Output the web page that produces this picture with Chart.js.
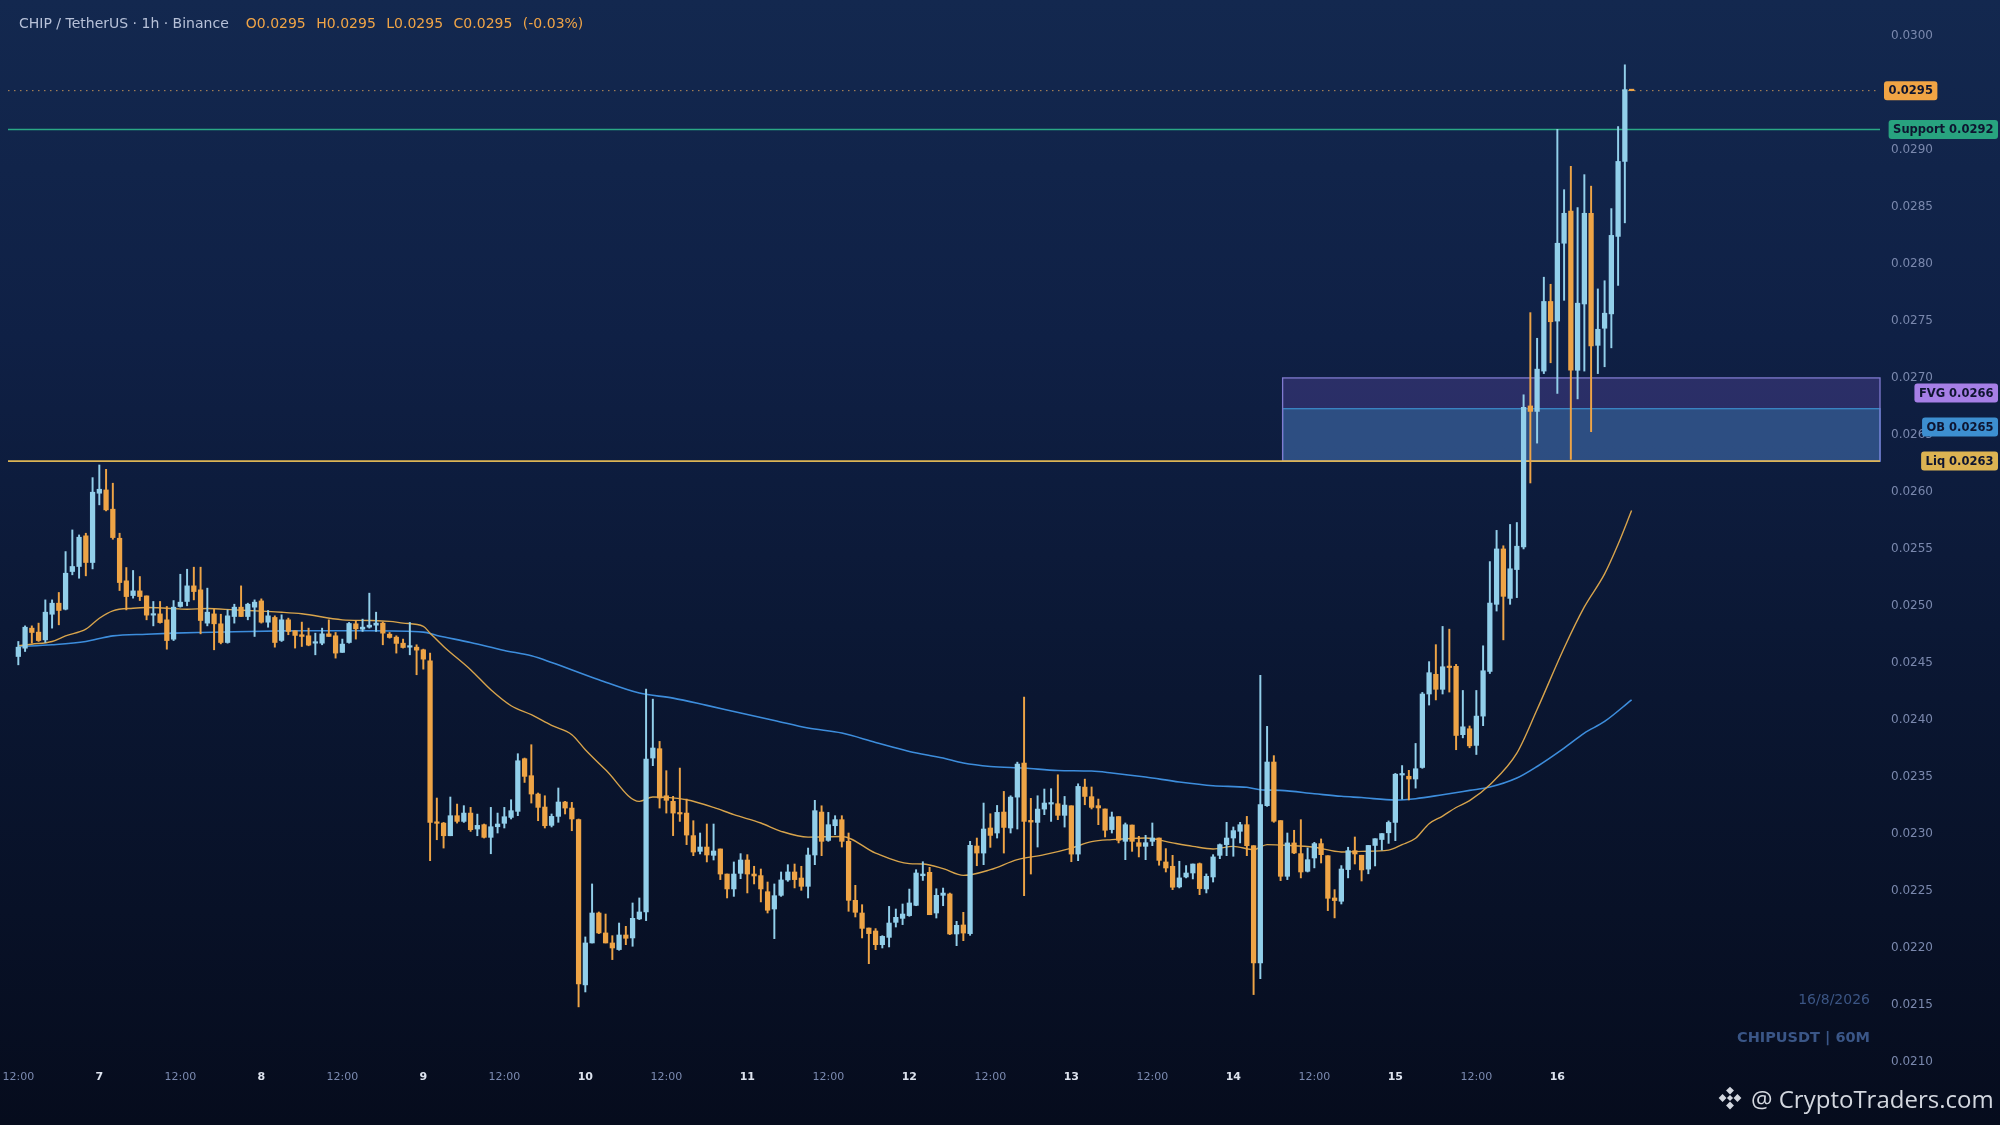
<!DOCTYPE html>
<html><head><meta charset="utf-8">
<script src="https://cdn.jsdelivr.net/npm/chart.js@4.4.1/dist/chart.umd.min.js"></script>
<style>
html,body{margin:0;padding:0;width:2000px;height:1125px;overflow:hidden;}
body{background:linear-gradient(180deg,#13284f 0%,#0f2045 30%,#0a1631 62%,#060c1d 100%);font-family:'DejaVu Sans',sans-serif;position:relative;}
#c{position:absolute;left:0;top:0;}
#hdr{position:absolute;left:19px;top:14px;font-size:14px;line-height:18px;color:#b7c1d8;white-space:pre;}
#hdr .v{color:#f0a446;margin-left:10.5px}
#hdr .v.first{margin-left:17px}
#date{position:absolute;right:130px;top:990px;font-size:14px;line-height:18px;color:#3b5584;}
#sym{position:absolute;right:130px;top:1028px;font-size:14.5px;line-height:18px;font-weight:bold;color:#3a5687;}
#wm{position:absolute;left:1716px;top:1082px;height:32px;display:flex;align-items:center;color:#d3d7df;font-family:'Open Sans',sans-serif;font-size:24px;}
#wm svg{margin-right:7px}
</style></head>
<body>
<canvas id="c" width="2000" height="1125"></canvas>
<div id="hdr"></div>
<div id="date">16/8/2026</div>
<div id="sym">CHIPUSDT | 60M</div>
<div id="wm"><svg width="28" height="28" viewBox="0 0 32 32"><g fill="#d3d7df"><path d="M16 3l4.5 4.5-4.5 4.5-4.5-4.5z"/><path d="M16 20l4.5 4.5-4.5 4.5-4.5-4.5z"/><path d="M3 16l4.5-4.5 4.5 4.5-4.5 4.5z"/><path d="M20 16l4.5-4.5 4.5 4.5-4.5 4.5z"/><path d="M16 12.5l3.5 3.5-3.5 3.5-3.5-3.5z"/></g></svg><span>@ CryptoTraders.com</span></div>
<script>
// ---------- DATA ----------
const symbolTitle = 'CHIP / TetherUS · 1h · Binance';
const firstDay = 6; // candle 0 = day 6, 12:00 (1h candles)
const opens = [
0.024555,0.024628,0.024804,0.024769,0.024701,0.024926,0.025023,0.024970,0.025301,0.025345,
0.025614,0.025380,0.025988,0.026017,0.025848,0.025593,0.025219,0.025090,0.025131,0.025087,
0.024918,0.024929,0.024877,0.024707,0.024994,0.025038,0.025175,0.025140,0.024848,0.024929,
0.024842,0.024678,0.024906,0.024988,0.024906,0.024988,0.025043,0.024856,0.024898,0.024696,
0.024877,0.024781,0.024746,0.024737,0.024672,0.024672,0.024754,0.024737,0.024591,0.024678,
0.024842,0.024795,0.024813,0.024830,0.024848,0.024751,0.024725,0.024672,0.024637,0.024637,
0.024614,0.024517,0.023102,0.023093,0.022982,0.023158,0.023108,0.023181,0.023041,0.023079,
0.022968,0.023061,0.023091,0.023143,0.023196,0.023658,0.023509,0.023348,0.023234,0.023073,
0.023152,0.023278,0.023225,0.023123,0.021673,0.022041,0.022304,0.022129,0.022041,0.021983,
0.022111,0.022085,0.022252,0.022313,0.023664,0.023746,0.023333,0.023284,0.023181,0.023181,
0.022983,0.022845,0.022883,0.022810,0.022866,0.022646,0.022515,0.022652,0.022769,0.022646,
0.022632,0.022491,0.022339,0.022459,0.022594,0.022664,0.022611,0.022538,0.022813,0.023190,
0.022941,0.023070,0.023123,0.022933,0.022415,0.022304,0.022172,0.022146,0.022026,0.022090,
0.022222,0.022257,0.022281,0.022371,0.022631,0.022661,0.022304,0.022459,0.022471,0.022120,
0.022199,0.022123,0.022892,0.022830,0.023050,0.023006,0.023190,0.023050,0.023321,0.023620,
0.023117,0.023099,0.023216,0.023260,0.023263,0.023161,0.023245,0.022821,0.023409,0.023325,
0.023246,0.023217,0.023036,0.023150,0.022933,0.023076,0.022921,0.022889,0.022933,0.022962,
0.022752,0.022714,0.022533,0.022620,0.022655,0.022737,0.022515,0.022620,0.022810,0.022904,
0.022962,0.023021,0.023079,0.022895,0.021866,0.023246,0.023629,0.023115,0.022626,0.022919,
0.022825,0.022670,0.022787,0.022913,0.022807,0.022436,0.022407,0.022685,0.022851,0.022811,
0.022689,0.022897,0.022949,0.023008,0.023099,0.023515,0.023504,0.023480,0.023581,0.024226,
0.024399,0.024267,0.024469,0.024469,0.023869,0.023921,0.023775,0.024032,0.024424,0.025013,
0.025499,0.025065,0.025318,0.025516,0.026754,0.026706,0.027060,0.027671,0.027499,0.028182,
0.028464,0.027067,0.027649,0.028445,0.027286,0.027436,0.027562,0.028242,0.028900,0.029524];
const highs = [
0.024687,0.024824,0.024824,0.024848,0.025052,0.025052,0.025117,0.025476,0.025666,0.025622,
0.025637,0.026125,0.026236,0.026198,0.026076,0.025637,0.025336,0.025310,0.025257,0.025087,
0.025038,0.025038,0.024994,0.025046,0.025277,0.025321,0.025339,0.025339,0.025155,0.024970,
0.024926,0.024964,0.025014,0.025175,0.025023,0.025052,0.025061,0.024959,0.024912,0.024921,
0.024892,0.024781,0.024857,0.024804,0.024760,0.024804,0.024877,0.024766,0.024708,0.024854,
0.024871,0.024883,0.025111,0.024944,0.024857,0.024766,0.024737,0.024708,0.024854,0.024658,
0.024620,0.024585,0.023313,0.023099,0.023322,0.023260,0.023246,0.023231,0.023172,0.023085,
0.023231,0.023181,0.023231,0.023298,0.023702,0.023664,0.023781,0.023357,0.023333,0.023173,
0.023401,0.023284,0.023275,0.023129,0.022094,0.022559,0.022313,0.022295,0.022105,0.022216,
0.022187,0.022392,0.022436,0.024269,0.024181,0.023810,0.023553,0.023328,0.023576,0.023304,
0.023114,0.023006,0.023085,0.023085,0.022866,0.022646,0.022752,0.022825,0.022816,0.022714,
0.022690,0.022576,0.022559,0.022664,0.022728,0.022734,0.022714,0.022874,0.023293,0.023245,
0.023187,0.023158,0.023158,0.023006,0.022547,0.022377,0.022172,0.022167,0.022105,0.022362,
0.022339,0.022383,0.022514,0.022684,0.022754,0.022705,0.022517,0.022523,0.022479,0.022231,
0.022310,0.022933,0.022962,0.023269,0.023175,0.023248,0.023371,0.023333,0.023628,0.024199,
0.023310,0.023333,0.023392,0.023395,0.023517,0.023327,0.023245,0.023438,0.023479,0.023410,
0.023304,0.023217,0.023190,0.023150,0.023094,0.023076,0.022977,0.022986,0.023094,0.022962,
0.022869,0.022810,0.022758,0.022720,0.022734,0.022743,0.022647,0.022816,0.022910,0.023100,
0.023059,0.023100,0.023152,0.022895,0.024389,0.023942,0.023685,0.023115,0.023006,0.023030,
0.023123,0.022875,0.022924,0.022954,0.022807,0.022509,0.022720,0.022881,0.022971,0.022811,
0.022897,0.022956,0.023001,0.023112,0.023529,0.023598,0.023556,0.023792,0.024240,0.024510,
0.024659,0.024819,0.024795,0.024486,0.024257,0.023945,0.024257,0.024649,0.025388,0.025662,
0.025527,0.025714,0.025731,0.026852,0.027573,0.027348,0.027884,0.027822,0.029181,0.028652,
0.028856,0.028495,0.028784,0.028683,0.027781,0.027853,0.028486,0.029206,0.029748,0.029528];
const lows = [
0.024482,0.024599,0.024672,0.024687,0.024678,0.024804,0.024833,0.024964,0.025272,0.025242,
0.025263,0.025324,0.025886,0.025833,0.025584,0.025134,0.024964,0.025067,0.025046,0.024877,
0.024824,0.024848,0.024619,0.024695,0.024988,0.025000,0.025052,0.024754,0.024824,0.024614,
0.024666,0.024672,0.024848,0.024906,0.024877,0.024731,0.024848,0.024812,0.024637,0.024687,
0.024746,0.024629,0.024643,0.024649,0.024570,0.024658,0.024731,0.024541,0.024591,0.024672,
0.024708,0.024775,0.024804,0.024775,0.024658,0.024716,0.024585,0.024629,0.024570,0.024395,
0.024444,0.022763,0.022947,0.022874,0.022982,0.023093,0.023099,0.023020,0.022982,0.022962,
0.022824,0.023006,0.023050,0.023129,0.023158,0.023450,0.023269,0.023114,0.023050,0.023059,
0.023100,0.023173,0.023026,0.021480,0.021611,0.022041,0.022123,0.022041,0.021895,0.021977,
0.022026,0.022012,0.022246,0.022237,0.023597,0.023225,0.023181,0.022983,0.023108,0.022904,
0.022807,0.022822,0.022752,0.022769,0.022597,0.022436,0.022450,0.022605,0.022480,0.022559,
0.022401,0.022304,0.022079,0.022450,0.022582,0.022524,0.022503,0.022436,0.022728,0.022807,
0.022933,0.022991,0.022883,0.022319,0.022269,0.022085,0.021859,0.021982,0.021997,0.022006,
0.022181,0.022202,0.022275,0.022368,0.022590,0.022289,0.022260,0.022368,0.022114,0.022017,
0.022061,0.022108,0.022719,0.022728,0.022880,0.022962,0.022830,0.023006,0.023041,0.022456,
0.022646,0.022883,0.023167,0.023108,0.023123,0.023058,0.022754,0.022763,0.023254,0.023217,
0.023079,0.022971,0.023006,0.022919,0.022772,0.022845,0.022796,0.022772,0.022895,0.022723,
0.022664,0.022509,0.022524,0.022612,0.022603,0.022465,0.022480,0.022576,0.022781,0.022807,
0.022802,0.022919,0.022807,0.021588,0.021728,0.023240,0.023100,0.022588,0.022597,0.022825,
0.022612,0.022664,0.022700,0.022743,0.022325,0.022261,0.022383,0.022612,0.022734,0.022585,
0.022648,0.022717,0.022856,0.022915,0.022939,0.023303,0.023296,0.023400,0.023574,0.024129,
0.024174,0.024226,0.024243,0.023737,0.023841,0.023754,0.023695,0.023948,0.024406,0.024954,
0.024701,0.025013,0.025072,0.025499,0.026078,0.026428,0.027038,0.027133,0.026863,0.027681,
0.026284,0.026816,0.027060,0.026528,0.027038,0.027098,0.027264,0.027812,0.028361,0.029520];
const closes = [
0.024637,0.024812,0.024766,0.024695,0.024944,0.025023,0.024959,0.025286,0.025345,0.025602,
0.025380,0.025997,0.026023,0.025842,0.025599,0.025204,0.025081,0.025131,0.025081,0.024918,
0.024929,0.024853,0.024695,0.024988,0.025032,0.025175,0.025125,0.024871,0.024944,0.024842,
0.024678,0.024912,0.024988,0.024906,0.025014,0.025032,0.024856,0.024912,0.024678,0.024877,
0.024775,0.024740,0.024731,0.024655,0.024684,0.024754,0.024731,0.024585,0.024664,0.024845,
0.024798,0.024813,0.024830,0.024848,0.024760,0.024722,0.024670,0.024634,0.024649,0.024611,
0.024532,0.023099,0.023091,0.022982,0.023158,0.023108,0.023181,0.023035,0.023073,0.022968,
0.023061,0.023085,0.023149,0.023202,0.023640,0.023503,0.023348,0.023231,0.023070,0.023152,
0.023278,0.023225,0.023129,0.021681,0.022041,0.022304,0.022129,0.022041,0.021997,0.022111,
0.022082,0.022257,0.022313,0.023655,0.023752,0.023313,0.023293,0.023181,0.023173,0.022988,
0.022839,0.022883,0.022813,0.022848,0.022646,0.022515,0.022646,0.022769,0.022646,0.022629,
0.022515,0.022328,0.022456,0.022594,0.022664,0.022597,0.022538,0.022813,0.023202,0.022933,
0.023079,0.023123,0.022933,0.022415,0.022310,0.022169,0.022123,0.022026,0.022099,0.022216,
0.022266,0.022295,0.022392,0.022655,0.022646,0.022289,0.022459,0.022479,0.022120,0.022196,
0.022128,0.022898,0.022830,0.023041,0.022985,0.023187,0.023055,0.023321,0.023611,0.023108,
0.023102,0.023216,0.023269,0.023269,0.023161,0.023251,0.022821,0.023415,0.023327,0.023231,
0.023226,0.023030,0.023147,0.022942,0.023079,0.022933,0.022889,0.022921,0.022962,0.022766,
0.022699,0.022530,0.022612,0.022655,0.022734,0.022518,0.022626,0.022796,0.022904,0.022962,
0.023027,0.023079,0.022895,0.021866,0.023255,0.023629,0.023109,0.022626,0.022919,0.022831,
0.022664,0.022772,0.022913,0.022816,0.022433,0.022413,0.022690,0.022851,0.022822,0.022682,
0.022897,0.022956,0.023001,0.023099,0.023522,0.023525,0.023480,0.023570,0.024226,0.024413,
0.024267,0.024465,0.024458,0.023862,0.023938,0.023771,0.024032,0.024430,0.025024,0.025499,
0.025083,0.025325,0.025523,0.026741,0.026706,0.027077,0.027671,0.027493,0.028182,0.028445,
0.027067,0.027656,0.028445,0.027280,0.027427,0.027568,0.028251,0.028900,0.029530,0.029521];

const emaFastIdx = [0,2,5,7,10,12,14,17,19,22,25,28,32,36,39,42,48,52,55,57,60,61,63,67,70,73,76,79,82,84,87,92,94,96,99,103,106,110,113,117,122,127,132,134,137,140,144,148,152,156,159,162,167,171,174,177,180,183,185,188,192,196,199,203,205,207,209,211,213,215,218,222,225,229,232,235,237,239];
const emaFastVals = [0.024649,0.024663,0.024687,0.024736,0.024795,0.024891,0.024956,0.024979,0.024985,0.024979,0.024970,0.024976,0.024964,0.024953,0.024944,0.024930,0.024877,0.024871,0.024863,0.024848,0.024819,0.024760,0.024643,0.024439,0.024263,0.024123,0.024044,0.023950,0.023869,0.023737,0.023561,0.023284,0.023322,0.023319,0.023298,0.023231,0.023167,0.023094,0.023021,0.022970,0.022976,0.022830,0.022737,0.022734,0.022693,0.022634,0.022684,0.022772,0.022816,0.022874,0.022930,0.022948,0.022962,0.022919,0.022889,0.022866,0.022889,0.022860,0.022904,0.022898,0.022881,0.022840,0.022845,0.022856,0.022904,0.022960,0.023088,0.023155,0.023230,0.023290,0.023430,0.023707,0.024090,0.024630,0.024990,0.025280,0.025540,0.025836];
const emaSlowIdx = [0,5,10,12,14,19,23,27,32,39,44,52,60,62,67,72,76,79,86,92,97,102,107,112,117,122,127,132,137,140,144,149,154,159,162,167,172,177,182,184,187,192,196,199,204,207,211,215,218,222,225,229,232,235,239];
const emaSlowVals = [0.024643,0.024658,0.024687,0.024713,0.024736,0.024751,0.024760,0.024766,0.024772,0.024780,0.024781,0.024781,0.024769,0.024740,0.024678,0.024608,0.024561,0.024503,0.024351,0.024234,0.024190,0.024126,0.024059,0.023994,0.023927,0.023883,0.023801,0.023722,0.023664,0.023620,0.023590,0.023576,0.023555,0.023550,0.023533,0.023497,0.023454,0.023421,0.023407,0.023386,0.023380,0.023351,0.023328,0.023317,0.023296,0.023307,0.023342,0.023380,0.023409,0.023488,0.023590,0.023751,0.023883,0.023985,0.024175];

const yTicks = [0.0210,0.0215,0.0220,0.0225,0.0230,0.0235,0.0240,0.0245,0.0250,0.0255,0.0260,0.0265,0.0270,0.0275,0.0280,0.0285,0.0290,0.0295,0.0300];
const xTickIdx = [0,12,24,36,48,60,72,84,96,108,120,132,144,156,168,180,192,204,216,228];

const supportLevel = 0.02918;
const liqLevel = 0.02627;
const fvgTop = 0.02700;
const obTop = 0.02673;
const zoneStartIdx = 187.3;

// ---------- HEADER ----------
const n = closes.length;
const lastClose = closes[n-1];
const chg = (closes[n-1] - closes[n-2]) / closes[n-2] * 100;
const hdr = document.getElementById('hdr');
hdr.textContent = symbolTitle;
[['O', opens[n-1]], ['H', highs[n-1]], ['L', lows[n-1]], ['C', closes[n-1]]].forEach(([k, v], j) => {
  const s = document.createElement('span'); s.className = j === 0 ? 'v first' : 'v'; s.textContent = k + v.toFixed(4); hdr.appendChild(s);
});
const sp = document.createElement('span'); sp.className = 'v'; sp.textContent = '(' + chg.toFixed(2) + '%)'; hdr.appendChild(sp);

// ---------- CHART ----------
Chart.defaults.font.family = "'DejaVu Sans', sans-serif";
const colUp = '#92cfea', colDn = '#eea446';
const candleIdx = opens.map((_, i) => i);
const candleColors = candleIdx.map(i => closes[i] >= opens[i] ? colUp : colDn);

function roundRect(ctx, x, y, w, h, r) {
  ctx.beginPath();
  ctx.moveTo(x + r, y); ctx.lineTo(x + w - r, y); ctx.quadraticCurveTo(x + w, y, x + w, y + r);
  ctx.lineTo(x + w, y + h - r); ctx.quadraticCurveTo(x + w, y + h, x + w - r, y + h);
  ctx.lineTo(x + r, y + h); ctx.quadraticCurveTo(x, y + h, x, y + h - r);
  ctx.lineTo(x, y + r); ctx.quadraticCurveTo(x, y, x + r, y); ctx.closePath();
}

const overlay = {
  id: 'overlay',
  beforeDatasetsDraw(chart) {
    const { ctx, chartArea: a, scales: { x, y } } = chart;
    ctx.save();
    const x0 = x.getPixelForValue(zoneStartIdx), x1 = a.right;
    const yF = y.getPixelForValue(fvgTop), yO = y.getPixelForValue(obTop), yL = y.getPixelForValue(liqLevel);
    ctx.fillStyle = 'rgba(110,85,190,0.30)'; ctx.fillRect(x0, yF, x1 - x0, yL - yF);
    ctx.fillStyle = 'rgba(50,110,160,0.50)'; ctx.fillRect(x0, yO, x1 - x0, yL - yO);
    ctx.lineWidth = 1.3;
    ctx.strokeStyle = '#3a88c6'; ctx.strokeRect(x0, yO, x1 - x0, yL - yO);
    ctx.strokeStyle = '#807ad0'; ctx.strokeRect(x0, yF, x1 - x0, yL - yF);
    const hline = (v, col, w, dash) => {
      const py = y.getPixelForValue(v);
      ctx.beginPath(); ctx.setLineDash(dash || []); ctx.strokeStyle = col; ctx.lineWidth = w;
      ctx.moveTo(a.left, py); ctx.lineTo(a.right, py); ctx.stroke();
    };
    hline(supportLevel, '#2aa885', 1.6);
    hline(liqLevel, '#dcb455', 1.6);
    hline(lastClose, 'rgba(215,160,90,0.85)', 1, [1.5, 4.5]);
    ctx.restore();
  },
  afterDraw(chart) {
    const { ctx, chartArea: a, scales: { y } } = chart;
    ctx.save();
    ctx.font = "bold 11.5px 'DejaVu Sans'";
    ctx.textBaseline = 'middle';
    const tag = (text, bg, cy, left, right) => {
      const w = ctx.measureText(text).width + 9, h = 19;
      const x = left !== undefined ? left : right - w;
      ctx.fillStyle = bg; roundRect(ctx, x, cy - h / 2, w, h, 3); ctx.fill();
      ctx.fillStyle = '#0e1530'; ctx.textAlign = 'left'; ctx.fillText(text, x + 4.5, cy + 0.5);
    };
    tag(lastClose.toFixed(4), '#f0a444', y.getPixelForValue(lastClose), a.right + 4);
    tag('Support ' + supportLevel.toFixed(4), '#28a37f', y.getPixelForValue(supportLevel), undefined, 1998);
    const yL = y.getPixelForValue(liqLevel);
    const yOB = Math.min(y.getPixelForValue((obTop + liqLevel) / 2), yL - 34);
    const yFVG = Math.min(y.getPixelForValue((fvgTop + liqLevel) / 2), yOB - 34);
    tag('FVG ' + ((fvgTop + liqLevel) / 2).toFixed(4), '#a67fe6', yFVG, undefined, 1998);
    tag('OB ' + ((obTop + liqLevel) / 2).toFixed(4), '#3d8fd0', yOB, undefined, 1998);
    tag('Liq ' + liqLevel.toFixed(4), '#dcb352', yL, undefined, 1998);
    ctx.restore();
  }
};

new Chart(document.getElementById('c'), {
  type: 'bar',
  data: {
    datasets: [
      { type: 'line', label: 'EMA slow', data: emaSlowIdx.map((v, k) => ({ x: v, y: emaSlowVals[k] })),
        borderColor: '#3d8ddc', borderWidth: 1.6, pointRadius: 0, cubicInterpolationMode: 'monotone', order: 4 },
      { type: 'line', label: 'EMA fast', data: emaFastIdx.map((v, k) => ({ x: v, y: emaFastVals[k] })),
        borderColor: '#d8a44c', borderWidth: 1.4, pointRadius: 0, cubicInterpolationMode: 'monotone', order: 3 },
      { type: 'bar', label: 'wicks', data: candleIdx.map(i => ({ x: i, y: [lows[i], highs[i]] })),
        backgroundColor: candleColors, barThickness: 1.3, grouped: false, borderWidth: 0, order: 2 },
      { type: 'bar', label: 'bodies', data: candleIdx.map(i => ({ x: i, y: [opens[i], closes[i]] })),
        backgroundColor: candleColors, barThickness: 4.6, minBarLength: 1.5, grouped: false, borderWidth: 0, order: 1 }
    ]
  },
  options: {
    responsive: false, animation: false, devicePixelRatio: 1,
    layout: { padding: { top: 19, left: 8, right: 0, bottom: 0 } },
    plugins: { legend: { display: false }, tooltip: { enabled: false } },
    scales: {
      x: {
        type: 'linear', min: -1.53, max: 275.8, offset: false,
        grid: { display: false, drawTicks: false }, border: { display: false },
        afterBuildTicks: s => { s.ticks = xTickIdx.map(v => ({ value: v })); },
        afterFit: s => { s.height = 60; s.paddingLeft = 0; s.paddingRight = 0; },
        ticks: {
          autoSkip: false, maxRotation: 0, padding: 6,
          callback: v => (v % 24 === 0) ? '12:00' : String(firstDay + 1 + (v - 12) / 24),
          color: c => (c.tick && c.tick.value % 24 === 12) ? '#dde3ee' : '#7b8ab0',
          font: c => (c.tick && c.tick.value % 24 === 12) ? { size: 11, weight: 'bold' } : { size: 11 }
        }
      },
      y: {
        type: 'linear', position: 'right', min: 0.02097, max: 0.03015,
        grid: { display: false, drawTicks: false }, border: { display: false },
        afterBuildTicks: s => { s.ticks = yTicks.map(v => ({ value: v })); },
        afterFit: s => { s.width = 120; s.paddingTop = 0; s.paddingBottom = 0; },
        ticks: { padding: 11, color: '#7a88ad', font: { size: 12 }, callback: v => v.toFixed(4) }
      }
    }
  },
  plugins: [overlay]
});
</script>
</body></html>
